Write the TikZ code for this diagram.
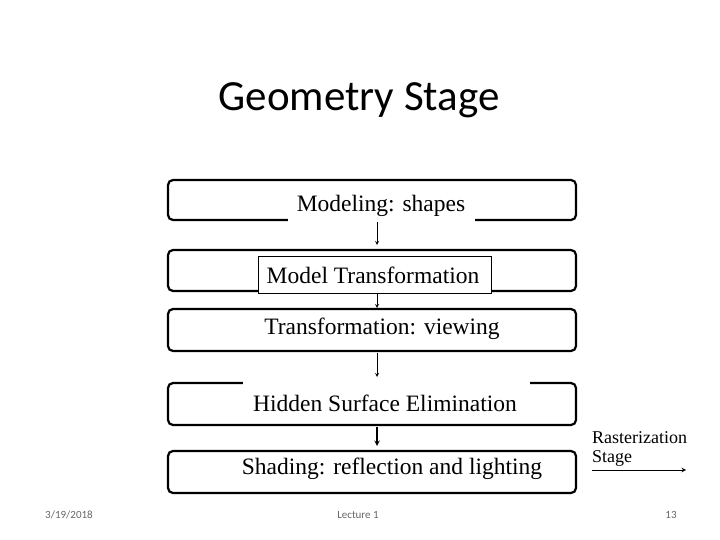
\documentclass[tikz,border=0pt]{standalone}
\usepackage{fontspec}
\setmainfont{Liberation Serif}
\newfontfamily\titlefont{Carlito}
\begin{document}
\begin{tikzpicture}[x=1pt,y=-1pt,
  stage/.style={draw,line width=2.2pt,rounded corners=5pt},
  lbl/.style={font=\fontsize{23.5}{26}\selectfont,inner sep=0pt},
  cover/.style={fill=white,draw=none},
  arr/.style={-stealth,line width=0.8pt},
  foot/.style={font=\titlefont\fontsize{11}{13}\selectfont,text=gray!80!black}]
\useasboundingbox (0,0) rectangle (720,540);
\node[font=\titlefont\fontsize{43}{48}\selectfont] (title) at (359,100) {Geometry Stage};
% boxes
\draw[stage] (168,180) rectangle (576,220);
\draw[stage] (168,250) rectangle (576,291);
\draw[stage] (168,309) rectangle (576,351);
\draw[stage] (168,383) rectangle (576,425);
\draw[stage] (168,451) rectangle (576,493);
% covers
\fill[cover] (288,192) rectangle (475,224);
\fill[cover] (243,380) rectangle (530,400);
\draw[fill=white,line width=0.5pt] (258,256) rectangle (491,293);
% labels
\node[lbl] (m1) at (381,206) {Modeling: shapes};
\node[lbl] (m2) at (373,275) {Model Transformation};
\node[lbl] (m3) at (382,329) {Transformation: viewing};
\node[lbl] (m4) at (385,403) {Hidden Surface Elimination};
\node[lbl] (m5) at (392,469) {Shading: reflection and lighting};
\coordinate (a1) at (377,222); \coordinate (b1) at (377,245);
\coordinate (a2) at (377,293); \coordinate (b2) at (377,308);
\coordinate (a3) at (377,353); \coordinate (b3) at (377,377);
\coordinate (a4) at (377,427); \coordinate (b4) at (377,446);
\draw[arr] (a1) -- (b1);
\draw[arr] (a2) -- (b2);
\draw[arr] (a3) -- (b3);
\draw[arr,line width=1.4pt] (a4) -- (b4);
\node[font=\fontsize{18}{19}\selectfont,align=left,anchor=west,inner sep=0pt] (rs) at (592,449) {Rasterization\\Stage};
\coordinate (r1) at (592,470); \coordinate (r2) at (686,470);
\draw[arr,line width=1pt] (r1) -- (r2);
\node[foot] (d) at (69,515) {3/19/2018};
\node[foot] (l) at (358,515) {Lecture 1};
\node[foot] (p) at (671,515) {13};
\end{tikzpicture}
\end{document}
